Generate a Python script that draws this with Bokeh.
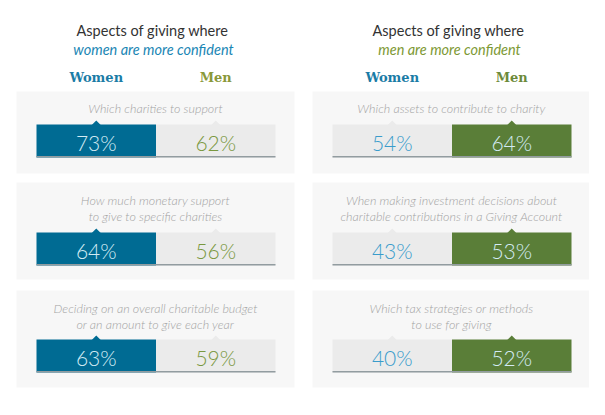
from bokeh.plotting import figure
from bokeh.models import Range1d
from bokeh.core.properties import value
from bokeh.embed import file_html
from bokeh.resources import INLINE

# ---- data ----
panel_titles = ["Aspects of giving where", "Aspects of giving where"]
panel_subtitles = ["women are more confident", "men are more confident"]
group_labels = ["Women", "Men"]

questions_left = [
    "Which charities to support",
    "How much monetary support\nto give to specific charities",
    "Deciding on an overall charitable budget\nor an amount to give each year",
]
women_left = [73, 64, 63]
men_left = [62, 56, 59]

questions_right = [
    "Which assets to contribute to charity",
    "When making investment decisions about\ncharitable contributions in a Giving Account",
    "Which tax strategies or methods\nto use for giving",
]
women_right = [54, 43, 40]
men_right = [64, 53, 52]

# ---- styles ----
BLUE = "#006b93"
GREEN = "#5a7e38"
LIGHT = "#ebebeb"
BOX = "#f7f7f7"
LINE = "#929ca0"
BLUE_TXT = "#3a9ccb"
GREEN_TXT = "#7a983f"
ON_DARK = "#d4ebf4"
Q_COLOR = "#a3a3a3"

p = figure(width=589, height=399, x_range=Range1d(0, 589), y_range=Range1d(399, 0),
           output_backend="svg", toolbar_location=None, min_border=0)
p.axis.visible = False
p.grid.visible = False
p.outline_line_color = None
p.background_fill_color = "white"

panel_left = [16, 312]
panel_w = 278
bar_offset = 20
bar_half = 119.5
box_top = [91, 182, 290]
box_bot = [173, 279, 387]
bar_top = [124, 232, 339]
bar_h = 33
q_first = [108, 200, 307.5]
q_gap = 16

panels = [
    (questions_left, women_left, men_left, 0),
    (questions_right, women_right, men_right, 1),
]
sub_colors = ["#1a86b4", "#7d9934"]
head_colors = [("#1a7ca6", "#8a983a"), ("#1a7ca6", "#6d8a3a")]

for qs, ws, ms, k in panels:
    x0 = panel_left[k]
    cx = x0 + panel_w / 2
    bl = x0 + bar_offset
    bm = bl + bar_half
    br = bm + bar_half
    wc = (bl + bm) / 2
    mc = (bm + br) / 2
    # titles
    p.text(x=[cx - 3], y=[30], text=[panel_titles[k]], text_font=value("Lato"),
           text_font_size="14.5px", text_color="#333333", text_align="center",
           text_baseline="middle")
    p.text(x=[cx - 2], y=[49], text=[panel_subtitles[k]], text_font=value("Lato"),
           text_font_style="italic", text_font_size="14.5px", text_color=sub_colors[k],
           text_align="center", text_baseline="middle")
    p.text(x=[wc, mc], y=[77, 77], text=group_labels, text_font=value("DejaVu Serif"),
           text_font_style="bold", text_font_size="13px",
           text_color=list(head_colors[k]), text_align="center", text_baseline="middle")
    dark_is_women = (k == 0)
    for i in range(len(qs)):
        # background box
        p.quad(left=[x0], right=[x0 + panel_w], top=[box_top[i]], bottom=[box_bot[i]],
               fill_color=BOX, line_color=None)
        # question lines
        lines = qs[i].split("\n")
        p.text(x=[cx] * len(lines), y=[q_first[i] + j * q_gap for j in range(len(lines))],
               text=lines, text_font=value("Lato Light"), text_font_style="italic",
               text_font_size="12.5px", text_color=Q_COLOR, text_align="center",
               text_baseline="middle")
        t = bar_top[i]
        b = t + bar_h
        wcol = BLUE if dark_is_women else LIGHT
        mcol = LIGHT if dark_is_women else GREEN
        p.quad(left=[bl], right=[bm], top=[t], bottom=[b], fill_color=wcol, line_color=None)
        p.quad(left=[bm], right=[br], top=[t], bottom=[b], fill_color=mcol, line_color=None)
        # pointers
        p.patches(xs=[[wc - 4.5, wc, wc + 4.5], [mc - 4.5, mc, mc + 4.5]],
                  ys=[[t + 0.5, t - 4, t + 0.5], [t + 0.5, t - 4, t + 0.5]],
                  fill_color=[wcol, mcol], line_color=None)
        # bottom line
        p.quad(left=[bl], right=[br], top=[b - 1.5], bottom=[b], fill_color=LINE,
               line_color=None)
        # values
        wtc = ON_DARK if dark_is_women else BLUE_TXT
        mtc = GREEN_TXT if dark_is_women else ON_DARK
        p.text(x=[wc, mc], y=[t + bar_h / 2 + 1, t + bar_h / 2 + 1],
               text=[f"{ws[i]}%", f"{ms[i]}%"], text_font=value("Lato Light"),
               text_font_size="21px", text_color=[wtc, mtc], text_align="center",
               text_baseline="middle")

open("out.html", "w").write(file_html(p, INLINE))
